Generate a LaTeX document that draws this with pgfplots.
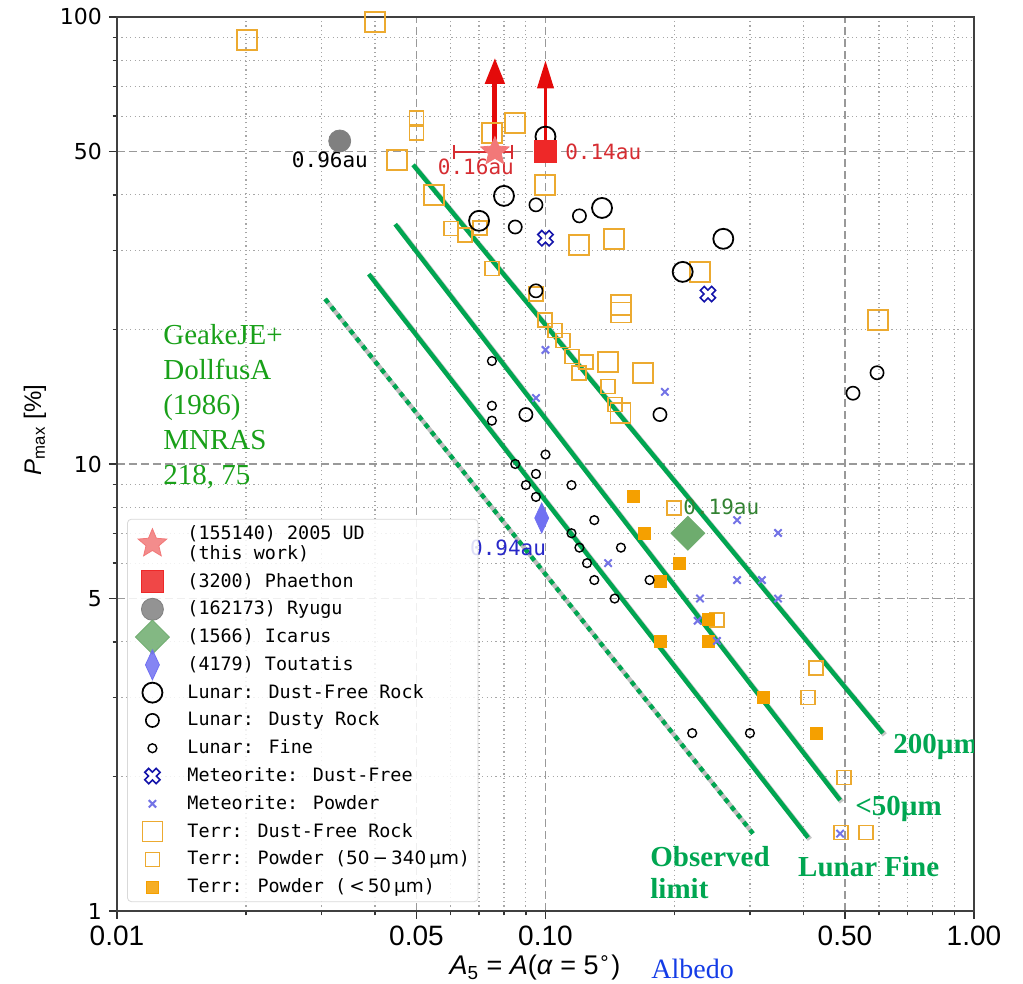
\documentclass[border=0pt]{standalone}
\usepackage{pgfplots}
\pgfplotsset{compat=1.18}
\usetikzlibrary{arrows.meta}
\usepackage{fontspec}
\setmainfont{Liberation Serif}
\newfontfamily\mono{DejaVu Sans Mono}
\newfontfamily\dvs{DejaVu Sans}
\newfontfamily\lsans{Liberation Sans}
\newfontfamily\serif{Liberation Serif}

\definecolor{gline}{RGB}{0,166,81}
\definecolor{geake}{RGB}{25,160,25}
\definecolor{terr}{RGB}{236,170,48}
\definecolor{terrfill}{RGB}{245,160,0}
\definecolor{metdf}{RGB}{20,20,170}
\definecolor{metpw}{RGB}{115,115,230}
\definecolor{icarus}{RGB}{110,172,110}
\definecolor{tout}{RGB}{112,112,242}
\definecolor{phae}{RGB}{238,40,40}
\definecolor{starc}{RGB}{242,120,120}
\definecolor{arrowc}{RGB}{228,10,10}
\definecolor{labred}{RGB}{214,45,50}
\definecolor{labblue}{RGB}{40,40,200}
\definecolor{labgreen}{RGB}{50,130,50}
\definecolor{albedo}{RGB}{20,60,230}

\pgfdeclareplotmark{fstar}{%
  \pgfpathmoveto{\pgfpointpolar{90}{\pgfplotmarksize}}%
  \pgfpathlineto{\pgfpointpolar{126}{0.45\pgfplotmarksize}}%
  \pgfpathlineto{\pgfpointpolar{162}{\pgfplotmarksize}}%
  \pgfpathlineto{\pgfpointpolar{198}{0.45\pgfplotmarksize}}%
  \pgfpathlineto{\pgfpointpolar{234}{\pgfplotmarksize}}%
  \pgfpathlineto{\pgfpointpolar{270}{0.45\pgfplotmarksize}}%
  \pgfpathlineto{\pgfpointpolar{306}{\pgfplotmarksize}}%
  \pgfpathlineto{\pgfpointpolar{342}{0.45\pgfplotmarksize}}%
  \pgfpathlineto{\pgfpointpolar{18}{\pgfplotmarksize}}%
  \pgfpathlineto{\pgfpointpolar{54}{0.45\pgfplotmarksize}}%
  \pgfpathclose
  \pgfusepathqfillstroke
}
\pgfdeclareplotmark{thickx}{%
  \pgftransformrotate{45}%
  \pgfpathmoveto{\pgfpoint{0.35\pgfplotmarksize}{\pgfplotmarksize}}%
  \pgfpathlineto{\pgfpoint{0.35\pgfplotmarksize}{0.35\pgfplotmarksize}}%
  \pgfpathlineto{\pgfpoint{\pgfplotmarksize}{0.35\pgfplotmarksize}}%
  \pgfpathlineto{\pgfpoint{\pgfplotmarksize}{-0.35\pgfplotmarksize}}%
  \pgfpathlineto{\pgfpoint{0.35\pgfplotmarksize}{-0.35\pgfplotmarksize}}%
  \pgfpathlineto{\pgfpoint{0.35\pgfplotmarksize}{-\pgfplotmarksize}}%
  \pgfpathlineto{\pgfpoint{-0.35\pgfplotmarksize}{-\pgfplotmarksize}}%
  \pgfpathlineto{\pgfpoint{-0.35\pgfplotmarksize}{-0.35\pgfplotmarksize}}%
  \pgfpathlineto{\pgfpoint{-\pgfplotmarksize}{-0.35\pgfplotmarksize}}%
  \pgfpathlineto{\pgfpoint{-\pgfplotmarksize}{0.35\pgfplotmarksize}}%
  \pgfpathlineto{\pgfpoint{-0.35\pgfplotmarksize}{0.35\pgfplotmarksize}}%
  \pgfpathlineto{\pgfpoint{-0.35\pgfplotmarksize}{\pgfplotmarksize}}%
  \pgfpathclose
  \pgfusepathqstroke
}

\pgfplotsset{
  fixedimg/.style={legend image code/.code={%
    \begin{pgfinterruptboundingbox}\draw[##1, only marks] plot coordinates {(0.3cm,0cm)};\end{pgfinterruptboundingbox}%
    \path[draw=none, fill=none] (0cm,-1bp) rectangle (0.6cm,1bp);}},
}

\pgfplotstableread{
x y
0.100 54
0.080 39.8
0.070 35.0
0.1355 37.4
0.209 26.9
0.260 31.9
}\lunardfr
\pgfplotstableread{
x y
0.095 38
0.120 35.9
0.085 33.9
0.095 24.4
0.090 12.9
0.185 12.9
0.522 14.4
0.594 16.0
}\lunardusty
\pgfplotstableread{
x y
0.075 17.0
0.075 13.5
0.075 12.5
0.100 10.5
0.085 10.0
0.095 9.5
0.090 8.97
0.095 8.44
0.115 8.97
0.130 7.49
0.115 7.0
0.120 6.5
0.150 6.5
0.125 6.0
0.130 5.5
0.175 5.5
0.145 5.0
0.22 2.5
0.30 2.5
}\lunarfine
\pgfplotstableread{
x y
0.100 32.0
0.2394 24.0
}\metdf
\pgfplotstableread{
x y
0.100 18.0
0.095 14.05
0.190 14.5
0.280 7.49
0.349 7.01
0.140 6.0
0.280 5.5
0.320 5.5
0.2294 5.0
0.349 5.0
0.2265 4.46
0.2513 4.02
0.487 1.49
}\metpw
\pgfplotstableread{
x y
0.0201 88.8
0.0400 97.5
0.045 47.9
0.0549 40.0
0.075 55.0
0.0849 57.9
0.0998 42.1
0.1198 30.9
0.1445 31.9
0.2294 26.9
0.150 22.7
0.150 21.8
0.597 21.0
0.140 16.9
0.1689 16.0
0.1495 13.0
}\terrdfr
\pgfplotstableread{
x y
0.05 59.4
0.05 55.0
0.0602 33.6
0.0649 32.5
0.0703 33.7
0.0750 27.4
0.095 24.0
0.0998 21.0
0.1052 19.9
0.110 18.9
0.1153 17.4
0.1243 16.9
0.1198 16.0
0.140 14.9
0.1452 13.6
0.1995 7.97
0.2513 4.48
0.428 3.5
0.41 3.0
0.4975 1.99
0.49 1.5
0.56 1.5
}\terrpw
\pgfplotstableread{
x y
0.160 8.48
0.170 7.01
0.205 6.0
0.185 5.47
0.2394 4.50
0.185 4.0
0.2394 4.0
0.322 3.0
0.428 2.5
}\terrfine

\begin{document}
\begin{tikzpicture}
\useasboundingbox (-58.5bp,-36.5bp) rectangle (453bp,455.5bp);
\begin{axis}[
  scale only axis, width=428.5bp, height=447bp,
  at={(0,0)}, anchor=south west,
  xmode=log, ymode=log,
  xmin=0.01, xmax=1, ymin=1, ymax=100,
  xtick={0.01,0.05,0.1,0.5,1}, xticklabels={0.01,0.05,0.10,0.50,1.00},
  ytick={1,5,10,50,100}, yticklabels={1,5,10,50,100},
  minor xtick={0.02,0.03,0.04,0.06,0.07,0.08,0.09,0.2,0.3,0.4,0.6,0.7,0.8,0.9},
  minor ytick={2,3,4,6,7,8,9,20,30,40,60,70,80,90},
  grid=both,
  major grid style={black!40, line width=0.6bp, dash pattern=on 4bp off 2bp},
  minor grid style={black!35, line width=0.6bp, dash pattern=on 0.6bp off 1.6bp},
  tick align=outside, tick pos=left,
  major tick length=4bp, minor tick length=2.2bp,
  every tick/.style={black!80, line width=0.7bp},
  axis line style={line width=1.1bp, black!75},
  xticklabel style={font=\lsans\fontsize{14bp}{16bp}\selectfont, yshift=0bp},
  yticklabel style={font=\dvs\fontsize{11bp}{13bp}\selectfont},
  legend cell align=left,
  legend style={at={(axis description cs:0.0117,0.01)}, anchor=south west,
    draw=black!15, rounded corners=2bp, fill=white, fill opacity=0.85,
    text opacity=1, draw opacity=1, inner xsep=4bp, inner ysep=3bp,
    row sep=5.4bp, column sep=9bp,
    font=\mono\fontsize{9.2bp}{10bp}\selectfont, nodes={inner sep=0pt}},
]
% legend entries
\addlegendimage{only marks, fixedimg, mark=fstar, mark size=7.5bp, draw=starc, fill=starc}
\addlegendentry{\begin{tabular}[b]{@{}l@{}}(155140) 2005 UD\\(this work)\end{tabular}}
\addlegendimage{only marks, fixedimg, mark=square*, mark size=5.5bp, draw=phae, fill=phae}
\addlegendentry{\strut(3200) Phaethon}
\addlegendimage{only marks, fixedimg, mark=*, mark size=5.5bp, draw=gray, fill=gray}
\addlegendentry{\strut(162173) Ryugu}
\addlegendimage{only marks, fixedimg, mark=square*, mark size=6bp, mark options={rotate=45}, draw=icarus, fill=icarus}
\addlegendentry{\strut(1566) Icarus}
\addlegendimage{only marks, fixedimg, mark=diamond*, mark size=7.5bp, mark options={xscale=0.62}, draw=tout, fill=tout}
\addlegendentry{\strut(4179) Toutatis}
\addlegendimage{only marks, fixedimg, mark=o, mark size=5bp, draw=black, line width=0.9bp}
\addlegendentry{\strut Lunar: Dust-Free Rock}
\addlegendimage{only marks, fixedimg, mark=o, mark size=3.3bp, draw=black, line width=0.8bp}
\addlegendentry{\strut Lunar: Dusty Rock}
\addlegendimage{only marks, fixedimg, mark=o, mark size=2.2bp, draw=black, line width=0.7bp}
\addlegendentry{\strut Lunar: Fine}
\addlegendimage{only marks, fixedimg, mark=thickx, mark size=4bp, draw=metdf, line width=0.8bp}
\addlegendentry{\strut Meteorite: Dust-Free}
\addlegendimage{only marks, fixedimg, mark=x, mark size=2.6bp, draw=metpw, line width=1bp}
\addlegendentry{\strut Meteorite: Powder}
\addlegendimage{only marks, fixedimg, mark=square, mark size=5bp, draw=terr, line width=0.75bp}
\addlegendentry{\strut Terr: Dust-Free Rock}
\addlegendimage{only marks, fixedimg, mark=square, mark size=3.5bp, draw=terr, line width=0.75bp}
\addlegendentry{\strut Terr: Powder ({\dvs 50\,−\,340\,µm})}
\addlegendimage{only marks, fixedimg, mark=square*, mark size=3bp, draw=terrfill, fill=terrfill}
\addlegendentry{\strut Terr: Powder ({\dvs\,<\,50\,µm})}

% lab data
\addplot[forget plot, only marks, mark=square, mark size=5bp, draw=terr, line width=0.75bp] table {\terrdfr};
\addplot[forget plot, only marks, mark=square, mark size=3.5bp, draw=terr, line width=0.75bp] table {\terrpw};
\addplot[forget plot, only marks, mark=square*, mark size=3bp, draw=terrfill, fill=terrfill] table {\terrfine};
\addplot[forget plot, only marks, mark=o, mark size=5bp, draw=black, line width=0.9bp] table {\lunardfr};
\addplot[forget plot, only marks, mark=o, mark size=3.3bp, draw=black, line width=0.8bp] table {\lunardusty};
\addplot[forget plot, only marks, mark=o, mark size=2.2bp, draw=black, line width=0.7bp] table {\lunarfine};
\addplot[forget plot, only marks, mark=thickx, mark size=4bp, draw=metdf, line width=0.8bp] table {\metdf};
\addplot[forget plot, only marks, mark=x, mark size=2.6bp, draw=metpw, line width=1bp] table {\metpw};

% model lines (shadows)
\addplot[forget plot, black, opacity=0.22, line width=2.6bp, xshift=0.9bp, yshift=-0.9bp] coordinates {(0.0491,46.7) (0.6132,2.50)};
\addplot[forget plot, black, opacity=0.22, line width=2.6bp, xshift=0.9bp, yshift=-0.9bp] coordinates {(0.0446,34.4) (0.487,1.77)};
\addplot[forget plot, black, opacity=0.22, line width=2.6bp, xshift=0.9bp, yshift=-0.9bp] coordinates {(0.0387,26.6) (0.41,1.46)};
\addplot[forget plot, gline, line width=2.2bp] coordinates {(0.0491,46.7) (0.6132,2.50)};
\addplot[forget plot, gline, line width=2.2bp] coordinates {(0.0446,34.4) (0.487,1.77)};
\addplot[forget plot, gline, line width=2.2bp] coordinates {(0.0387,26.6) (0.41,1.46)};
\addplot[forget plot, black!25, line width=2.2bp] coordinates {(0.0306,23.4) (0.305,1.49)};
\addplot[forget plot, gline, line width=2.2bp, dash pattern=on 2.5bp off 2.5bp] coordinates {(0.0306,23.4) (0.305,1.49)};

% special objects
\addplot[forget plot, only marks, mark=*, mark size=5.5bp, draw=gray, fill=gray] coordinates {(0.0331,52.8)};
\addplot[forget plot, only marks, mark=square*, mark size=6bp, mark options={rotate=45}, draw=icarus, fill=icarus] coordinates {(0.215,7.0)};
\addplot[forget plot, only marks, mark=diamond*, mark size=7.5bp, mark options={xscale=0.62}, draw=tout, fill=tout] coordinates {(0.098,7.57)};
\addplot[forget plot, only marks, mark=fstar, mark size=7.5bp, draw=starc, fill=starc] coordinates {(0.0762,50)};
\addplot[forget plot, color=labred, line width=1bp, {Bar[width=7bp]}-{Bar[width=7bp]}] coordinates {(0.0608,50) (0.084,50)};
\addplot[forget plot, arrowc, line width=2.4bp, -{Triangle[width=9.5bp,length=13bp]}] coordinates {(0.0762,50) (0.0762,81)};
\addplot[forget plot, only marks, mark=square*, mark size=5.5bp, draw=phae, fill=phae] coordinates {(0.1,50)};
\addplot[forget plot, arrowc, line width=1.8bp, -{Triangle[width=8bp,length=14bp]}] coordinates {(0.1,50) (0.1,80)};

% labels
\node[font=\mono\fontsize{10.5bp}{12bp}\selectfont, text=labred] at (axis cs:0.0688,46.2) {0.16au};
\node[font=\mono\fontsize{10.5bp}{12bp}\selectfont, text=labred, anchor=west, inner sep=0pt] at (axis cs:0.111,50) {0.14au};
\node[font=\mono\fontsize{10.5bp}{12bp}\selectfont, text=black] at (axis cs:0.0314,47.9) {0.96au};
\node[font=\mono\fontsize{10.5bp}{12bp}\selectfont, text=labblue] at (axis cs:0.0818,6.49) {0.94au};
\node[font=\mono\fontsize{10.5bp}{12bp}\selectfont, text=labgreen, anchor=west, inner sep=0pt] at (axis cs:0.2094,8.0) {0.19au};

\node[anchor=west, align=left, inner sep=0pt, font=\serif\fontsize{14.5bp}{17.5bp}\selectfont, text=geake] at (axis cs:0.0128,13.45) {GeakeJE+\\DollfusA\\(1986)\\MNRAS\\218, 75};
\node[anchor=west, inner sep=0pt, font=\serif\bfseries\fontsize{14.5bp}{16bp}\selectfont, text=gline] at (axis cs:0.647,2.33) {200µm};
\node[anchor=west, inner sep=0pt, font=\serif\bfseries\fontsize{14.5bp}{16bp}\selectfont, text=gline] at (axis cs:0.5276,1.69) {<50µm};
\node[anchor=west, inner sep=0pt, font=\serif\bfseries\fontsize{14.5bp}{16bp}\selectfont, text=gline] at (axis cs:0.388,1.26) {Lunar Fine};
\node[anchor=west, align=left, inner sep=0pt, font=\serif\bfseries\fontsize{14.5bp}{16bp}\selectfont, text=gline] at (axis cs:0.1754,1.22) {Observed\\limit};
\end{axis}
% axis labels (outside the clipped area)
\node[inner sep=0pt, font=\lsans\fontsize{13.5bp}{16bp}\selectfont] at (209bp,-28.5bp) {\textit{A}\textsubscript{5} = \textit{A}(\textit{α} = 5{\dvs\textsuperscript{∘}})};
\node[anchor=west, inner sep=0pt, font=\serif\fontsize{14bp}{16bp}\selectfont, text=albedo] at (267bp,-29bp) {Albedo};
\node[rotate=90, font=\lsans\fontsize{12bp}{14bp}\selectfont] at (-41bp,240.5bp) {\textit{P}\textsubscript{max} [\%]};
\end{tikzpicture}
\end{document}
